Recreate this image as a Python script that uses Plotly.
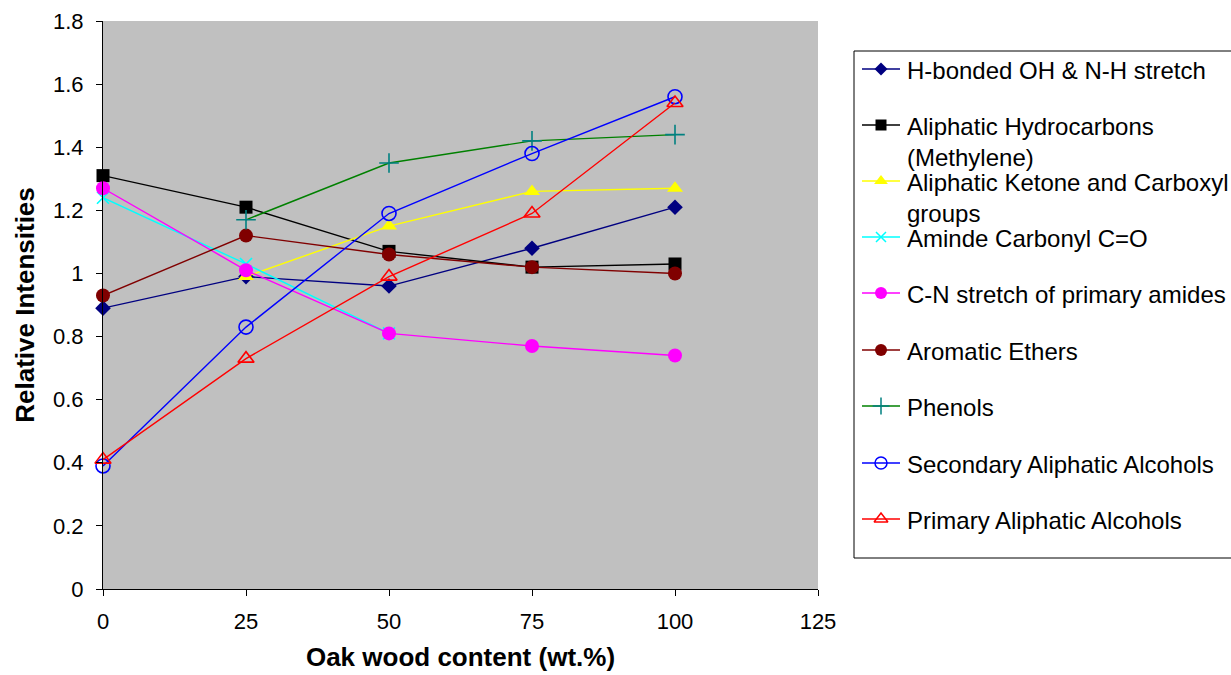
import plotly.graph_objects as go

# Oak wood content (wt.%) and relative FTIR band intensities
oak_content = [0, 25, 50, 75, 100]

h_bonded_oh_nh = [0.89, 0.99, 0.96, 1.08, 1.21]
aliphatic_hydrocarbons = [1.31, 1.21, 1.07, 1.02, 1.03]
aliphatic_ketone_carboxyl = [None, 0.99, 1.15, 1.26, 1.27]
aminde_carbonyl = [1.24, 1.03, 0.81, None, None]
cn_stretch_amides = [1.27, 1.01, 0.81, 0.77, 0.74]
aromatic_ethers = [0.93, 1.12, 1.06, 1.02, 1.00]
phenols = [None, 1.17, 1.35, 1.42, 1.44]
secondary_alcohols = [0.39, 0.83, 1.19, 1.38, 1.56]
primary_alcohols = [0.41, 0.73, 0.99, 1.19, 1.54]

series_names = [
    "H-bonded OH & N-H stretch",
    "Aliphatic Hydrocarbons<br>(Methylene)",
    "Aliphatic Ketone and Carboxyl<br>groups",
    "Aminde Carbonyl C=O",
    "C-N stretch of primary amides",
    "Aromatic Ethers",
    "Phenols",
    "Secondary Aliphatic Alcohols",
    "Primary Aliphatic Alcohols",
]
series_values = [
    h_bonded_oh_nh, aliphatic_hydrocarbons, aliphatic_ketone_carboxyl,
    aminde_carbonyl, cn_stretch_amides, aromatic_ethers, phenols,
    secondary_alcohols, primary_alcohols,
]

x_ticks = [0, 25, 50, 75, 100, 125]
y_ticks = [0, 0.2, 0.4, 0.6, 0.8, 1.0, 1.2, 1.4, 1.6, 1.8]

# line colour, marker symbol, marker colour, marker size
styles = [
    ("#000080", "diamond", "#000080", 12),
    ("#000000", "square", "#000000", 13),
    ("#FFFF00", "triangle-up", "#FFFF00", 14),
    ("#00FFFF", "x-thin", "#00FFFF", 12),
    ("#FF00FF", "circle", "#FF00FF", 14),
    ("#800000", "circle", "#800000", 14),
    ("#008000", "cross-thin", "#008080", 14),
    ("#0000FF", "circle-open", "#0000FF", 14),
    ("#FF0000", "triangle-up-open", "#FF0000", 14),
]

W, H = 1231, 675
FONT = "Liberation Sans, Arial, sans-serif"

fig = go.Figure()

for name, vals, (lc, sym, mc, ms) in zip(series_names, series_values, styles):
    open_sym = sym.endswith("open") or sym.endswith("thin")
    fig.add_trace(go.Scatter(
        x=oak_content, y=vals, mode="lines+markers", name=name,
        line=dict(color=lc, width=1.4),
        marker=dict(symbol=sym, size=ms, color=mc,
                    line=dict(color=mc, width=1.6 if open_sym else 0)),
        cliponaxis=False, showlegend=False, connectgaps=False,
        xaxis="x", yaxis="y",
    ))

# Key panel drawn on a pixel-scaled overlay axis
row_y = [69, 125, 181, 237, 293, 350, 406, 463, 519]
for name, (lc, sym, mc, ms), ry in zip(series_names, styles, row_y):
    open_sym = sym.endswith("open") or sym.endswith("thin")
    fig.add_trace(go.Scatter(
        x=[862, 900], y=[ry, ry], mode="lines",
        line=dict(color=lc, width=1.4), showlegend=False,
        xaxis="x2", yaxis="y2", hoverinfo="skip",
    ))
    fig.add_trace(go.Scatter(
        x=[881], y=[ry], mode="markers",
        marker=dict(symbol=sym, size=ms - 2, color=mc,
                    line=dict(color=mc, width=1.5 if open_sym else 0)),
        showlegend=False, xaxis="x2", yaxis="y2", hoverinfo="skip",
    ))
    fig.add_annotation(
        x=905, y=ry - 14, xref="x2", yref="y2", text=name,
        xanchor="left", yanchor="top", align="left", showarrow=False,
        font=dict(family=FONT, size=24, color="#000000"),
    )

fig.add_shape(type="rect", xref="x2", yref="y2", x0=854, x1=1245, y0=51, y1=558,
              line=dict(color="#000000", width=1), fillcolor="rgba(0,0,0,0)")

# grey plotting area
fig.add_shape(type="rect", xref="x domain", yref="y domain", x0=0, x1=1, y0=0, y1=1,
              fillcolor="#C0C0C0", line=dict(width=0), layer="below")

axis_font = dict(family=FONT, size=22, color="#000000")
title_font = dict(family=FONT, size=26, color="#000000")

fig.update_layout(
    width=W, height=H,
    margin=dict(l=0, r=0, t=0, b=0, autoexpand=False),
    paper_bgcolor="#FFFFFF", plot_bgcolor="rgba(0,0,0,0)",
    showlegend=False,
    xaxis=dict(
        domain=[103 / W, 818 / W], range=[0, 125], tickvals=x_ticks,
        ticks="outside", ticklen=6, tickcolor="#000000", tickwidth=1,
        showline=True, linecolor="#000000", linewidth=1, showgrid=False,
        zeroline=False, tickfont=axis_font, anchor="y", automargin=False,
        ticklabelstandoff=7,
        title=dict(text="<b>Oak wood content (wt.%)</b>", font=title_font, standoff=14),
    ),
    yaxis=dict(
        domain=[86 / H, 654 / H], range=[0, 1.8], tickvals=y_ticks,
        ticks="outside", ticklen=6, tickcolor="#000000", tickwidth=1,
        showline=True, linecolor="#000000", linewidth=1, showgrid=False,
        zeroline=False, tickfont=axis_font, anchor="x", automargin=False,
        ticklabelstandoff=8,
        title=dict(text="<b>Relative Intensities</b>", font=title_font, standoff=10),
    ),
    xaxis2=dict(domain=[0, 1], range=[0, W], visible=False, anchor="y2",
                fixedrange=True, automargin=False),
    yaxis2=dict(domain=[0, 1], range=[H, 0], visible=False, anchor="x2",
                fixedrange=True, automargin=False),
)

fig.write_html("out.html")
